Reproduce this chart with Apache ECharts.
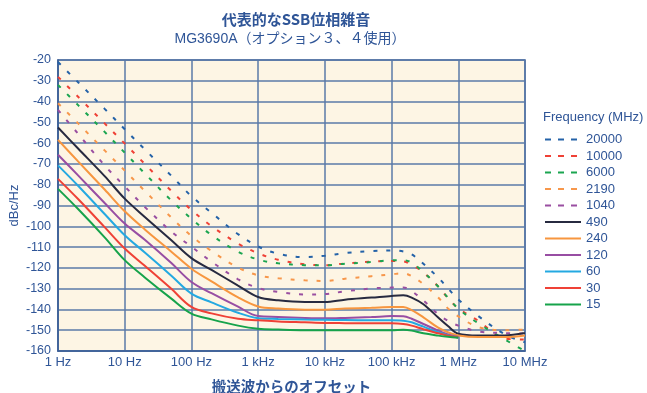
<!DOCTYPE html>
<html>
<head>
<meta charset="utf-8">
<script src="https://cdn.jsdelivr.net/npm/echarts@6/dist/echarts.min.js"></script>
<style>
html,body{margin:0;padding:0;background:#ffffff;}
#chart{width:647px;height:393px;}
</style>
</head>
<body>
<div id="chart"></div>
<script>
// Offset frequencies (Hz)
const freqHz = [1,2,5,10,20,50,100,200,500,1e3,2e3,5e3,1e4,2e4,5e4,1e5,1.5e5,2e5,3e5,5e5,7e5,1e6,2e6,5e6,1e7];
const xTickLabels = ['1 Hz','10 Hz','100 Hz','1 kHz','10 kHz','100 kHz','1 MHz','10 MHz'];
const seriesNames = ['20000','10000','6000','2190','1040','490','240','120','60','30','15'];
// Phase noise (dBc/Hz)
const s20000 = [-21,-30.7,-43.5,-53.3,-63,-75.7,-85.5,-93.5,-103.8,-109.7,-113.2,-114.8,-114.2,-112.9,-111.9,-111.6,-112.1,-113.5,-118,-124.7,-129.8,-135.2,-143.2,-152,-155.8];
const s10000 = [-28.1,-37.7,-50.5,-60.2,-70,-83,-92.2,-99.9,-108.3,-113,-116.1,-118.3,-118.7,-117.9,-117,-116.7,-116.9,-118.5,-122.2,-129,-134.5,-139.5,-145.5,-154,-154.5];
const s6000 = [-32,-41.7,-54.6,-64.6,-74.6,-87.6,-96.4,-104.2,-112.2,-116,-117.8,-118.7,-118.8,-118,-117.2,-116.3,-116.3,-117.5,-122,-129,-134.3,-139.6,-146.7,-154.5,-160];
const s2190 = [-40.8,-50.5,-63.5,-73.2,-83,-95.8,-104.7,-111.9,-119.9,-123.6,-125,-126,-126.3,-125.2,-124,-123.1,-122.6,-124,-127.8,-134.3,-139.5,-143.3,-148.5,-150,-149.7];
const s1040 = [-44,-55.5,-70.7,-80.8,-90.7,-102.5,-109.8,-117,-125.5,-129.7,-131.6,-132.8,-132.6,-131.3,-129.9,-129.5,-129.4,-131.2,-135.7,-142.3,-145.5,-147.8,-150.6,-151.4,-151.6];
const s490 = [-52.5,-62.6,-75.9,-86.7,-95.5,-106.7,-115.3,-121,-128.5,-134,-135.6,-136.4,-136.4,-135.3,-134.3,-133.5,-133.2,-134.3,-137.5,-143.9,-148,-151.7,-152.6,-152.5,-151.3];
const s240 = [-58.4,-68.8,-82.3,-92.8,-101.5,-112.2,-120.4,-126.5,-134.2,-138.6,-139.6,-140.1,-140.1,-139.6,-139.2,-138.8,-138.8,-140.3,-143.8,-148.8,-151,-152.5,-153.3,-153.3,-152.5];
const s120 = [-65.6,-75.5,-88.8,-98.7,-106.5,-117.7,-126.8,-132.2,-138.7,-143.2,-143.6,-144.1,-144.3,-144.1,-143.7,-143.2,-143.3,-144.5,-147,-150.2,-152,-153.3];
const s60 = [-70.7,-80.5,-94.1,-104.3,-112.6,-123.8,-132.4,-136.6,-141.6,-144.2,-144.6,-144.9,-145,-145.1,-145.2,-145.2,-145.4,-146.2,-148.3,-151,-152.5,-153.5];
const s30 = [-77.2,-86.9,-100.4,-110.7,-119,-130.1,-138.8,-141.9,-144.5,-145.2,-145.8,-146.2,-146.5,-146.6,-146.7,-146.7,-147,-147.8,-149.5,-151.5,-152.6,-153.5];
const s15 = [-82,-91.7,-105.3,-116.3,-124.6,-134.8,-142,-144.8,-147.8,-149.3,-149.7,-150,-150,-150,-150,-150,-149.8,-150.2,-151.5,-152.6,-153.2,-153.6];

const allValues = [s20000,s10000,s6000,s2190,s1040,s490,s240,s120,s60,s30,s15];
const colors = ['#2462a8','#ef4136','#1ba550','#f7974b','#9a4fa1','#272a40','#f7963f','#984ea3','#24a9e1','#ef4136','#16a34b'];
const dashed = [true,true,true,true,true,false,false,false,false,false,false];

const TXT = '#2f5597';
const FONT = '"Liberation Sans", Arial, "Noto Sans CJK JP", sans-serif';
const JFONT = '"Noto Sans CJK JP", "Liberation Sans", sans-serif';

const series = seriesNames.map((name, i) => ({
  name: name,
  type: 'line',
  symbol: 'none',
  smooth: 0.35,
  data: allValues[i].map((v, j) => [freqHz[j], v]),
  lineStyle: {
    color: colors[i],
    width: 2,
    type: dashed[i] ? [4, 9] : 'solid'
  },
  itemStyle: {color: colors[i]},
  z: dashed[i] ? 2 : 3
}));

const chart = echarts.init(document.getElementById('chart'), null, {renderer: 'canvas'});
chart.setOption({
  animation: false,
  backgroundColor: '#ffffff',
  grid: {
    left: 58, top: 60, width: 467, height: 291,
    outerBoundsMode: 'none',
    containLabel: false,
    show: true, backgroundColor: '#fdf5e4', borderColor: '#3b5e96', borderWidth: 1.5
  },
  graphic: [
    {type: 'text', x: 296, y: 19, style: {text: '代表的なSSB位相雑音', font: 'bold 15px ' + JFONT, fill: TXT, align: 'center', verticalAlign: 'middle', textAlign: 'center', textVerticalAlign: 'middle'}},
    {type: 'text', x: 290, y: 39, style: {text: 'MG3690A（オプション３、４使用）', font: '14px ' + FONT, fill: TXT, align: 'center', verticalAlign: 'middle', textAlign: 'center', textVerticalAlign: 'middle'}},
    {type: 'text', x: 543, y: 117, style: {text: 'Frequency (MHz)', font: '13px ' + FONT, fill: TXT, align: 'left', verticalAlign: 'middle', textAlign: 'left', textVerticalAlign: 'middle'}}
  ],
  legend: {
    orient: 'vertical',
    left: 539,
    top: 128,
    itemWidth: 36,
    itemHeight: 12,
    itemGap: 3.5,
    itemStyle: {opacity: 0},
    textStyle: {color: TXT, fontSize: 13, fontFamily: FONT, lineHeight: 12},
    data: seriesNames.map((n, i) => ({
      name: n,
      itemStyle: {opacity: 0},
      lineStyle: {type: dashed[i] ? [6, 7] : 'solid', width: 2, color: colors[i]}
    }))
  },
  xAxis: {
    type: 'log',
    logBase: 10,
    min: 1,
    max: 1e7,
    name: '搬送波からのオフセット',
    nameLocation: 'middle',
    nameGap: 28,
    nameMoveOverlap: false,
    nameTextStyle: {color: TXT, fontSize: 14.5, fontWeight: 'bold', fontFamily: JFONT},
    axisLine: {show: true, lineStyle: {color: '#3b5e96', width: 1.5}},
    axisTick: {show: false},
    minorTick: {show: false},
    splitLine: {show: true, lineStyle: {color: '#5a7aa8', width: 1.5}},
    axisLabel: {
      color: TXT, fontSize: 13, fontFamily: FONT, margin: 5,
      showMinLabel: true, showMaxLabel: true,
      formatter: v => xTickLabels[Math.round(Math.log10(v))]
    }
  },
  yAxis: {
    type: 'value',
    min: -160,
    max: -20,
    interval: 10,
    name: 'dBc/Hz',
    nameLocation: 'middle',
    nameGap: 37,
    nameMoveOverlap: false,
    nameTextStyle: {color: TXT, fontSize: 13, fontFamily: FONT},
    axisLine: {show: true, lineStyle: {color: '#3b5e96', width: 1.5}},
    axisTick: {show: false},
    splitLine: {show: true, lineStyle: {color: '#5a7aa8', width: 1.5}},
    axisLabel: {color: TXT, fontSize: 12.5, fontFamily: FONT, margin: 7}
  },
  series: series
});
</script>
</body>
</html>
